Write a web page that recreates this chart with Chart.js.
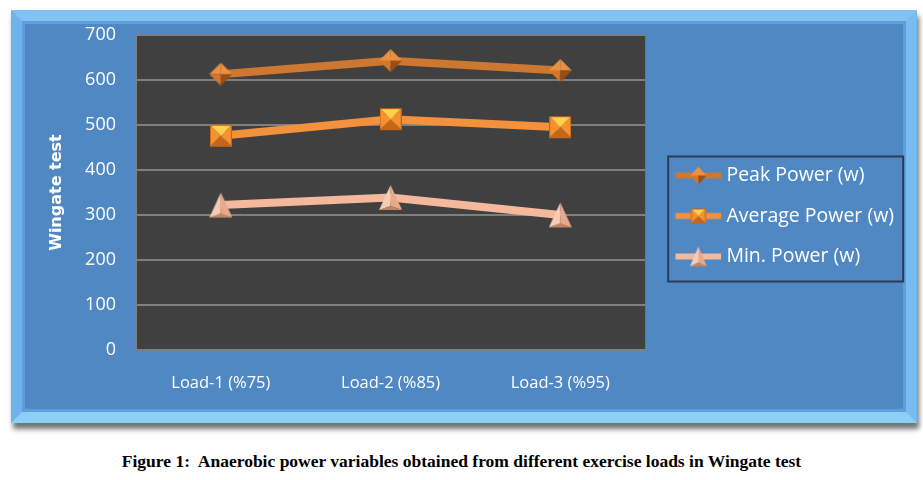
<!DOCTYPE html>
<html>
<head>
<meta charset="utf-8">
<script src="https://cdn.jsdelivr.net/npm/chart.js@4"></script>
<style>
  body { margin: 0; background: #fff; width: 923px; height: 480px; position: relative; overflow: hidden; }
  #frame {
    position: absolute; left: 11px; top: 10px; width: 884px; height: 391px;
    background: #4f88c2;
    border: 11px solid;
    border-color: #80c2f3 #78bbef #8ad0f5 #6fb3ec;
    box-shadow: 2px 6px 5px rgba(0,0,0,0.55), inset 0 0 0 3px #5c9fdc;
  }
  #frame canvas { position: absolute; left: 0; top: 0; }
  #cap {
    position: absolute; top: 451px; left: 0; width: 923px; text-align: center;
    font: bold 17.5px "Liberation Serif", serif; color: #000;
  }
</style>
</head>
<body>
<div id="frame"><canvas id="wingate" width="884" height="391"></canvas></div>
<div id="cap">Figure 1:&nbsp; Anaerobic power variables obtained from different exercise loads in Wingate test</div>
<script>
// data
var loads = ["Load-1 (%75)", "Load-2 (%85)", "Load-3 (%95)"];
var peakPower = [613, 643, 621];
var averagePower = [476, 513, 495];
var minPower = [322, 339, 300];
var seriesNames = ["Peak Power (w)", "Average Power (w)", "Min. Power (w)"];

// little bevelled markers like the office 3d look
// with lineColor it becomes a legend swatch (line + marker, shifted right)
function marker(kind, w, h, light, mid, dark, lineColor) {
    var c = document.createElement("canvas");
    c.width = lineColor ? 60 : w;
    c.height = h + 2;
    var g = c.getContext("2d");
    var cx = lineColor ? 60 - 23 : c.width / 2, cy = h / 2 + 1;
    if (lineColor) {
        g.strokeStyle = lineColor;
        g.lineWidth = 6;
        g.beginPath(); g.moveTo(cx - 23, cy); g.lineTo(cx + 23, cy); g.stroke();
    }
    function tri(p, col) {
        g.fillStyle = col;
        g.beginPath(); g.moveTo(p[0], p[1]); g.lineTo(p[2], p[3]); g.lineTo(p[4], p[5]); g.closePath(); g.fill();
    }
    var l = cx - w / 2, r = cx + w / 2, t = 1, b = h + 1;
    if (kind == "diamond") {
        tri([cx, t, l, cy, cx, cy], light);
        tri([cx, t, r, cy, cx, cy], light);
        tri([l, cy, cx, b, cx, cy], mid);
        tri([r, cy, cx, b, cx, cy], dark);
    } else if (kind == "square") {
        tri([l, t, r, t, cx, cy], light);
        tri([l, t, l, b, cx, cy], mid);
        tri([r, t, r, b, cx, cy], mid);
        tri([l, b, r, b, cx, cy], dark);
        g.strokeStyle = dark; g.lineWidth = 1;
        g.strokeRect(l + 0.5, t + 0.5, w - 1, h - 1);
    } else {
        tri([cx, t, l, b, cx, b - 4], light);
        tri([cx, t, r, b, cx, b - 4], mid);
        tri([l, b, r, b, cx, b - 4], dark);
    }
    return c;
}

var peakCol = ["#eb9040", "#d57628", "#9a4d16", "#cd7830"];
var avgCol = ["#ffd04a", "#f5922f", "#c4661a", "#f3913d"];
var minCol = ["#f8ccb4", "#e9a98b", "#c08468", "#f4b99d"];

var peakMark = marker("diamond", 23, 23, peakCol[0], peakCol[1], peakCol[2]);
var avgMark = marker("square", 22, 22, avgCol[0], avgCol[1], avgCol[2]);
var minMark = marker("triangle", 23, 25, minCol[0], minCol[1], minCol[2]);
var legendMarks = [
    marker("diamond", 16, 18, peakCol[0], peakCol[1], peakCol[2], peakCol[3]),
    marker("square", 15, 15, avgCol[0], avgCol[1], avgCol[2], avgCol[3]),
    marker("triangle", 17, 20, minCol[0], minCol[1], minCol[2], minCol[3])
];

var plotBits = {
    id: "plotBits",
    beforeDraw: function(chart) {
        var ctx = chart.ctx, a = chart.chartArea;
        ctx.save();
        ctx.fillStyle = "#404040";
        ctx.fillRect(a.left, a.top, a.right - a.left, a.bottom - a.top);
        var hb = chart.legend.legendHitBoxes;
        if (hb && hb.length) {
            var first = hb[0], last = hb[hb.length - 1];
            var top = first.top + first.height / 2 - 19;
            var bottom = last.top + last.height / 2 + 25;
            ctx.strokeStyle = "#2b3d57";
            ctx.lineWidth = 2;
            ctx.strokeRect(chart.legend.left + 23, top, 235, bottom - top);
        }
        ctx.restore();
    }
};

function draw() {
    new Chart(document.getElementById("wingate"), {
        type: "line",
        data: {
            labels: loads,
            datasets: [
                { label: seriesNames[0], data: peakPower, borderColor: peakCol[3], backgroundColor: peakCol[1], borderWidth: 8, pointStyle: peakMark },
                { label: seriesNames[1], data: averagePower, borderColor: avgCol[3], backgroundColor: avgCol[1], borderWidth: 8, pointStyle: avgMark },
                { label: seriesNames[2], data: minPower, borderColor: minCol[3], backgroundColor: minCol[1], borderWidth: 8, pointStyle: minMark }
            ]
        },
        options: {
            responsive: false,
            animation: false,
            layout: { padding: { top: 14, left: 0, right: 2, bottom: 15 } },
            plugins: {
                tooltip: { enabled: false },
                legend: {
                    position: "right",
                    maxWidth: 262,
                    labels: {
                        usePointStyle: true,
                        pointStyleWidth: 50.5,
                        boxHeight: 20,
                        color: "#fff",
                        font: { family: "Open Sans", size: 19.5 },
                        padding: 21,
                        generateLabels: function(chart) {
                            return chart.data.datasets.map(function(ds, i) {
                                return { text: ds.label, pointStyle: legendMarks[i], fontColor: "#fff", datasetIndex: i, lineWidth: 0, strokeStyle: "transparent", fillStyle: "transparent" };
                            });
                        }
                    }
                }
            },
            scales: {
                x: {
                    offset: true,
                    afterFit: function(s) { s.height = 47; s.paddingLeft = 0; s.paddingRight = 0; },
                    grid: { display: false, drawTicks: false },
                    border: { color: "#808080", width: 2 },
                    ticks: { color: "#fff", font: { family: "Open Sans", size: 16.5 }, padding: 23 }
                },
                y: {
                    min: 0,
                    max: 700,
                    afterFit: function(s) { s.width = 114; s.paddingTop = 0; s.paddingBottom = 0; },
                    ticks: { stepSize: 100, color: "#fff", font: { family: "Open Sans", size: 18 }, padding: 20 },
                    grid: { color: "#7f7f7f", lineWidth: 2, drawTicks: false },
                    border: { color: "#808080", width: 2 },
                    title: { display: true, text: "Wingate test", color: "#fff", font: { family: "DejaVu Sans", size: 16, weight: "bold" }, padding: { top: 25, bottom: 0 } }
                }
            }
        },
        plugins: [plotBits]
    });
}

Promise.all([
    document.fonts.load('19.5px "Open Sans"'),
    document.fonts.load('bold 16px "DejaVu Sans"')
]).then(draw, draw);
</script>
</body>
</html>
